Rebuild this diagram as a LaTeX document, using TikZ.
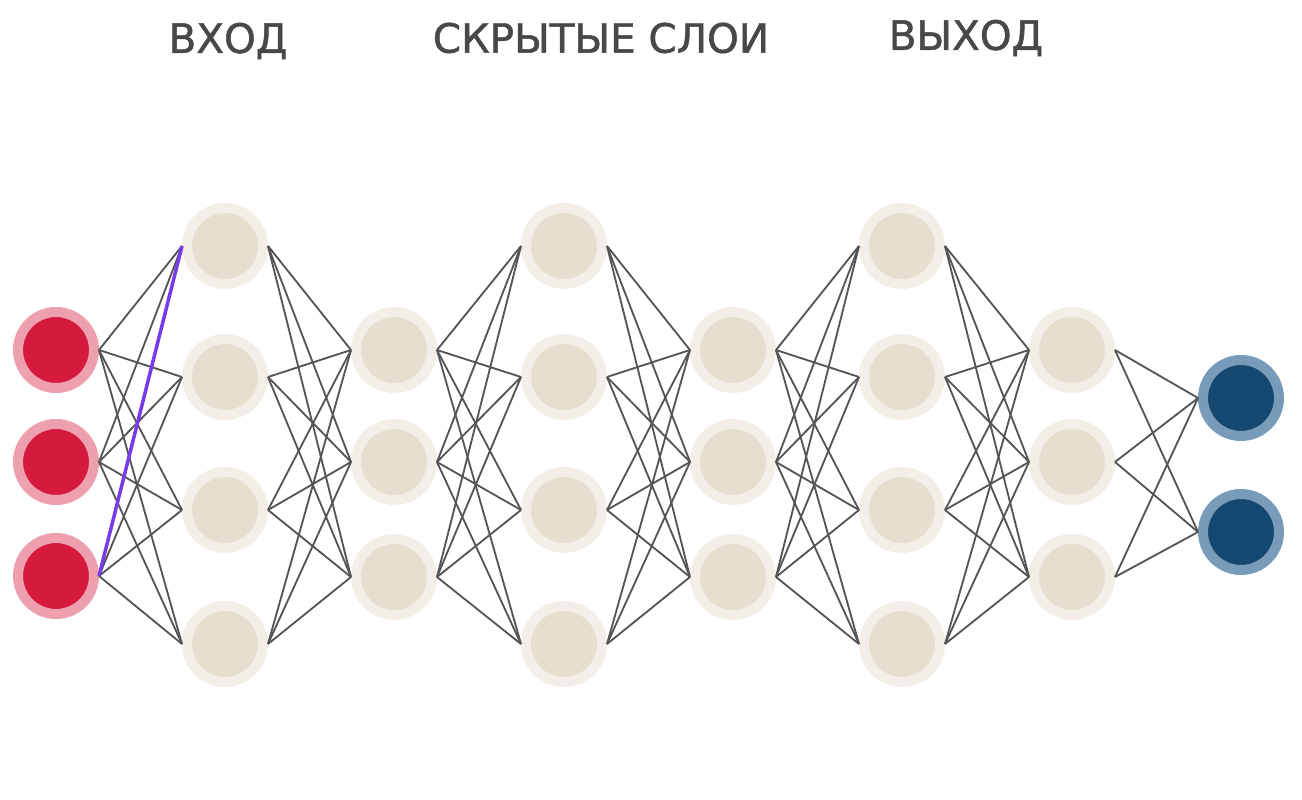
\documentclass[tikz,border=0pt]{standalone}
\usepackage{fontspec}
\setmainfont{DejaVu Sans}
\newfontfamily\titlefont[FakeBold=1.2]{DejaVu Sans}
\usetikzlibrary{calc}

\definecolor{inred}{RGB}{214,26,62}
\definecolor{inring}{RGB}{238,160,175}
\definecolor{hidbeige}{RGB}{230,222,206}
\definecolor{hidring}{RGB}{243,239,232}
\definecolor{outblue}{RGB}{20,72,112}
\definecolor{outring}{RGB}{120,155,185}
\definecolor{linkgray}{RGB}{85,85,85}
\definecolor{pickviolet}{RGB}{120,60,230}
\definecolor{titlegray}{RGB}{72,72,72}

\tikzset{
    neuron/.style={circle, minimum size=1.52cm, inner sep=0pt, line width=0.2cm},
    inneuron/.style={neuron, fill=inred, draw=inring},
    hidneuron/.style={neuron, fill=hidbeige, draw=hidring},
    outneuron/.style={neuron, fill=outblue, draw=outring},
    link/.style={draw=linkgray, line width=1.05pt},
    picklink/.style={draw=pickviolet, line width=2pt},
    title/.style={text=titlegray, font=\titlefont\fontsize{23}{27}\selectfont}
}

\begin{document}
\begin{tikzpicture}[x=0.02cm, y=-0.02cm]
                \useasboundingbox (0,0) rectangle (1302,800);
                \node[title] (tin) at (228,41) {ВХОД};
                \node[title] (thid) at (601,38) {СКРЫТЫЕ СЛОИ};
                \node[title] (tout) at (966,38) {ВЫХОД};
                % layers
                \foreach \j/\y in {1/350,2/462,3/576}{
                    \node[inneuron] (i\j) at (56,\y) {};
                }
                \foreach \l/\x in {1/225,3/564,5/902}{
                    \foreach \j/\y in {1/246,2/377,3/510,4/644}{
                        \node[hidneuron] (h\l-\j) at (\x,\y) {};
                    }
                }
                \foreach \l/\x in {2/394,4/733,6/1072}{
                    \foreach \j/\y in {1/350,2/462,3/577}{
                        \node[hidneuron] (h\l-\j) at (\x,\y) {};
                    }
                }
                \foreach \j/\y in {1/398,2/532}{
                    \node[outneuron] (o\j) at (1241,\y) {};
                }
                % links
                \foreach \a in {1,2,3}{
                    \foreach \b in {1,...,4}{
                        \draw[link] (i\a.east) -- (h1-\b.west);
                    }
                }
                \foreach \l/\m in {1/2,3/4,5/6}{
                    \foreach \a in {1,...,4}{
                        \foreach \b in {1,2,3}{
                            \draw[link] (h\l-\a.east) -- (h\m-\b.west);
                        }
                    }
                }
                \foreach \l/\m in {2/3,4/5}{
                    \foreach \a in {1,2,3}{
                        \foreach \b in {1,...,4}{
                            \draw[link] (h\l-\a.east) -- (h\m-\b.west);
                        }
                    }
                }
                \foreach \a in {1,2,3}{
                    \foreach \b in {1,2}{
                        \draw[link] (h6-\a.east) -- (o\b.west);
                    }
                }
                \draw[picklink] (i3.east) -- (h1-1.west);
            \end{tikzpicture}
\end{document}
